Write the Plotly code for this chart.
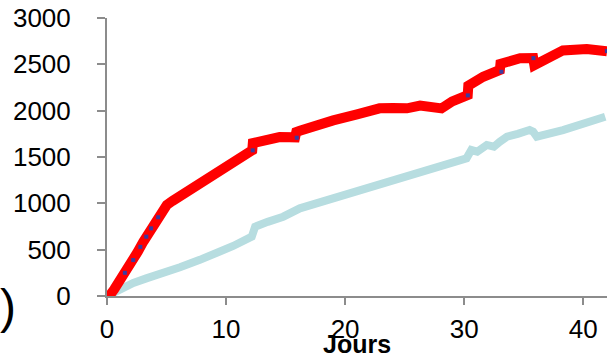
import plotly.graph_objects as go

# Red series (cumulative, days)
red_x = [0, 0.25, 0.6, 1.09, 1.6, 2.21, 2.6, 3.05, 3.5, 3.89, 4.4, 4.8, 5.02, 5.5, 6.13, 7.0, 7.82,
         8.5, 9.22, 10.0, 11.0, 12.2, 12.25, 13.0, 14.5, 15.8, 15.9, 16.2, 17.5, 19.0, 21.0,
         22.9, 24.0, 25.2, 26.3, 27.0, 28.1, 29.0, 30.3, 30.35, 31.6, 33.0, 33.05, 34.7, 35.8,
         35.9, 37.2, 38.3, 40.3, 42.0]
red_y = [0, 11, 70, 160, 260, 388, 480, 586, 685, 766, 870, 940, 982, 1025, 1075, 1150, 1216,
         1280, 1341, 1392, 1470, 1572, 1650, 1680, 1715, 1712, 1770, 1784, 1840, 1895, 1960,
         2025, 2030, 2025, 2055, 2040, 2025, 2100, 2169, 2270, 2366, 2439, 2505, 2565, 2567,
         2490, 2582, 2650, 2665, 2640]

# Dark blue points visible through the red line
dark_x = [1.5, 2.2, 2.8, 3.3, 3.7, 4.3, 12.24, 15.94, 30.31, 33.13, 35.82, 41.99]
dark_y = [250, 388, 530, 640, 730, 850, 1572, 1708, 2165, 2420, 2567, 2643]

# Light blue series
lb_x = [0, 0.5, 1.09, 2.21, 3.3, 5.0, 6.13, 7.8, 9.2, 10.6, 12.16, 12.44, 13.5, 14.8, 16.2,
        17.6, 20.1, 22.0, 24.3, 27.0, 29.9, 30.2, 30.6, 31.1, 31.9, 32.5, 33.0, 33.6, 34.5,
        35.5, 35.8, 36.1, 38.3, 40.0, 41.85]
lb_y = [0, 35, 80, 140, 190, 255, 310, 390, 460, 540, 640, 748, 800, 856, 946,
        1000, 1090, 1170, 1270, 1370, 1468, 1486, 1575, 1557, 1630, 1611, 1665, 1719, 1750,
        1791, 1773, 1719, 1791, 1860, 1935]

x_ticks = [0, 10, 20, 30, 40]
y_ticks = [0, 500, 1000, 1500, 2000, 2500, 3000]

fig = go.Figure()
fig.add_trace(go.Scatter(x=lb_x, y=lb_y, mode="lines",
                         line=dict(color="#b7dde0", width=8), showlegend=False))
fig.add_trace(go.Scatter(x=red_x, y=red_y, mode="lines",
                         line=dict(color="#ff0000", width=10), showlegend=False))
fig.add_trace(go.Scatter(x=dark_x, y=dark_y, mode="markers",
                         marker=dict(color="#3c3ca0", size=4, symbol="square"),
                         showlegend=False))

font_main = "Liberation Sans, Arial, sans-serif"
fig.update_layout(
    width=610, height=358,
    margin=dict(l=107, r=3, t=18, b=62),
    paper_bgcolor="white", plot_bgcolor="white",
    font=dict(family=font_main, size=26, color="black"),
    xaxis=dict(range=[0, 42], tickvals=x_ticks, showgrid=False, zeroline=False,
               showline=True, linecolor="#8c8c8c", linewidth=2,
               ticks="outside", ticklen=7, tickwidth=2, tickcolor="#8c8c8c",
               ticklabelstandoff=2),
    yaxis=dict(range=[0, 3000], tickvals=y_ticks, showgrid=False, zeroline=False,
               showline=True, linecolor="#8c8c8c", linewidth=2,
               ticks="outside", ticklen=8, tickwidth=2, tickcolor="#8c8c8c",
               ticklabelstandoff=21),
    annotations=[
        dict(text="<b>Jours</b>", xref="paper", yref="paper", x=0.5, y=-0.172,
             xanchor="center", yanchor="middle", showarrow=False,
             font=dict(family=font_main, size=25, color="black")),
        dict(text=")", xref="paper", yref="paper", x=-0.198, y=-0.036,
             xanchor="center", yanchor="middle", showarrow=False,
             font=dict(family=font_main, size=48, color="black")),
    ],
)

fig.write_html("out.html",
               config={"displayModeBar": False},
               post_script="document.body.style.margin='0';"
                           "document.documentElement.style.overflow='hidden';")
